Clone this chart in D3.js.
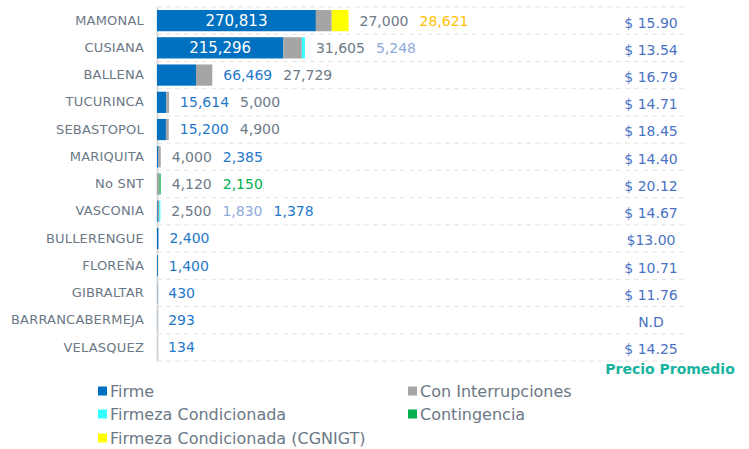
<!DOCTYPE html>
<html>
<head>
<meta charset="utf-8">
<script src="https://cdn.jsdelivr.net/npm/d3@7"></script>
<style>
  body { margin: 0; background: #fff; }
  svg { display: block; font-family: "DejaVu Sans", sans-serif; }
</style>
</head>
<body>
<svg width="749" height="449"></svg>
<script>
// data
const categories = ["MAMONAL", "CUSIANA", "BALLENA", "TUCURINCA", "SEBASTOPOL", "MARIQUITA", "No SNT",
  "VASCONIA", "BULLERENGUE", "FLOREÑA", "GIBRALTAR", "BARRANCABERMEJA", "VELASQUEZ"];
const firme = [270813, 215296, 66469, 15614, 15200, 2385, 0, 1378, 2400, 1400, 430, 293, 134];
const conInterrupciones = [27000, 31605, 27729, 5000, 4900, 4000, 4120, 2500, 0, 0, 0, 0, 0];
const firmezaCondicionada = [0, 5248, 0, 0, 0, 0, 0, 1830, 0, 0, 0, 0, 0];
const contingencia = [0, 0, 0, 0, 0, 0, 2150, 0, 0, 0, 0, 0, 0];
const firmezaCGNIGT = [28621, 0, 0, 0, 0, 0, 0, 0, 0, 0, 0, 0, 0];
const precios = ["$ 15.90", "$ 13.54", "$ 16.79", "$ 14.71", "$ 18.45", "$ 14.40", "$ 20.12",
  "$ 14.67", "$13.00", "$ 10.71", "$ 11.76", "N.D", "$ 14.25"];

const series = [
  { key: "firme", name: "Firme", values: firme, color: "#0070c0", label: "#1f78c8" },
  { key: "conInt", name: "Con Interrupciones", values: conInterrupciones, color: "#a5a5a5", label: "#6d7a88" },
  { key: "fc", name: "Firmeza Condicionada", values: firmezaCondicionada, color: "#33ffff", label: "#8eaadb" },
  { key: "cont", name: "Contingencia", values: contingencia, color: "#00b050", label: "#00b050" },
  { key: "cgnigt", name: "Firmeza Condicionada (CGNIGT)", values: firmezaCGNIGT, color: "#ffff00", label: "#ffc000" }
];

const rows = categories.map((c, i) => {
  const r = { cat: c };
  series.forEach(s => r[s.key] = s.values[i]);
  return r;
});

const svg = d3.select("svg");

const x = d3.scaleLinear().domain([0, 900000]).range([157, 685]);
const y = d3.scaleBand().domain(categories).range([7, 361])
  .paddingInner(0.22).paddingOuter(0.11);

// dashed row separators
const step = y.step();
svg.append("g").selectAll("line")
  .data(d3.range(categories.length + 1))
  .enter().append("line")
  .attr("x1", 157).attr("x2", 685)
  .attr("y1", i => 7 + i * step).attr("y2", i => 7 + i * step)
  .attr("stroke", "#e3e3e3")
  .attr("stroke-dasharray", "5,4");

// category axis
const yAxis = svg.append("g")
  .attr("transform", "translate(157,0)")
  .call(d3.axisLeft(y).tickSize(0).tickPadding(13));
yAxis.select(".domain").attr("stroke", "#d9d9d9").attr("stroke-width", 2);
yAxis.selectAll("text")
  .attr("fill", "#6b7886")
  .attr("font-size", 13)
  .attr("letter-spacing", 0.2)
  .attr("font-family", "DejaVu Sans, sans-serif");

// stacked bars
const stack = d3.stack().keys(series.map(s => s.key));
const layers = stack(rows);

svg.append("g").selectAll("g")
  .data(layers)
  .enter().append("g")
  .attr("fill", (d, i) => series[i].color)
  .selectAll("rect")
  .data(d => d)
  .enter().append("rect")
  .attr("x", d => x(d[0]))
  .attr("y", d => y(d.data.cat))
  .attr("width", d => x(d[1]) - x(d[0]))
  .attr("height", y.bandwidth());

// value labels
const labelG = svg.append("g").attr("font-size", 14);
rows.forEach((r, i) => {
  const cy = y(r.cat) + y.bandwidth() / 2;
  const segs = [];
  series.forEach((s, k) => {
    const v = r[s.key];
    if (!v) return;
    const x0 = layers[k][i][0], x1 = layers[k][i][1];
    segs.push({ s, k, v, x0, x1 });
  });
  const inside = segs.filter(g => x(g.x1) - x(g.x0) > 60);
  inside.forEach(g => {
    labelG.append("text")
      .attr("x", (x(g.x0) + x(g.x1)) / 2)
      .attr("y", cy)
      .attr("dy", "0.35em")
      .attr("text-anchor", "middle")
      .attr("fill", "#fff")
      .attr("font-size", 15)
      .text(d3.format(",")(g.v));
  });
  const maxV = d3.max(segs, g => g.v);
  const outside = segs.filter(g => !inside.includes(g))
    .sort((a, b) => {
      const ka = a.k === 0 ? (a.v === maxV ? -1 : 99) : a.k;
      const kb = b.k === 0 ? (b.v === maxV ? -1 : 99) : b.k;
      return ka - kb;
    });
  let cx = x(d3.sum(segs, g => g.v)) + 11;
  outside.forEach(g => {
    const t = labelG.append("text")
      .attr("x", cx)
      .attr("y", cy)
      .attr("dy", "0.35em")
      .attr("fill", g.s.label)
      .text(d3.format(",")(g.v));
    cx += t.node().getComputedTextLength() + 11;
  });
});

// average price column
svg.append("g").selectAll("text")
  .data(precios)
  .enter().append("text")
  .attr("x", 651)
  .attr("y", (d, i) => y(categories[i]) + y.bandwidth() / 2 + 2)
  .attr("dy", "0.35em")
  .attr("text-anchor", "middle")
  .attr("fill", "#4a72c4")
  .attr("font-size", 14)
  .text(d => d);

svg.append("text")
  .attr("x", 670).attr("y", 369)
  .attr("dy", "0.35em")
  .attr("text-anchor", "middle")
  .attr("fill", "#17b3a0")
  .attr("font-weight", "bold")
  .attr("font-size", 14)
  .text("Precio Promedio");

// legend
const legendPos = [[98, 391], [408, 391], [98, 414], [408, 414], [98, 438]];
const legendOrder = ["firme", "conInt", "fc", "cont", "cgnigt"];
const legend = svg.append("g").selectAll("g")
  .data(legendOrder.map(k => series.find(s => s.key === k)))
  .enter().append("g")
  .attr("transform", (d, i) => `translate(${legendPos[i][0]},${legendPos[i][1]})`);
legend.append("rect")
  .attr("x", 0).attr("y", -4.5)
  .attr("width", 9).attr("height", 9)
  .attr("fill", d => d.color);
legend.append("text")
  .attr("x", 12).attr("dy", "0.35em")
  .attr("fill", "#6b7886")
  .attr("font-size", 16)
  .text(d => d.name);
</script>
</body>
</html>
